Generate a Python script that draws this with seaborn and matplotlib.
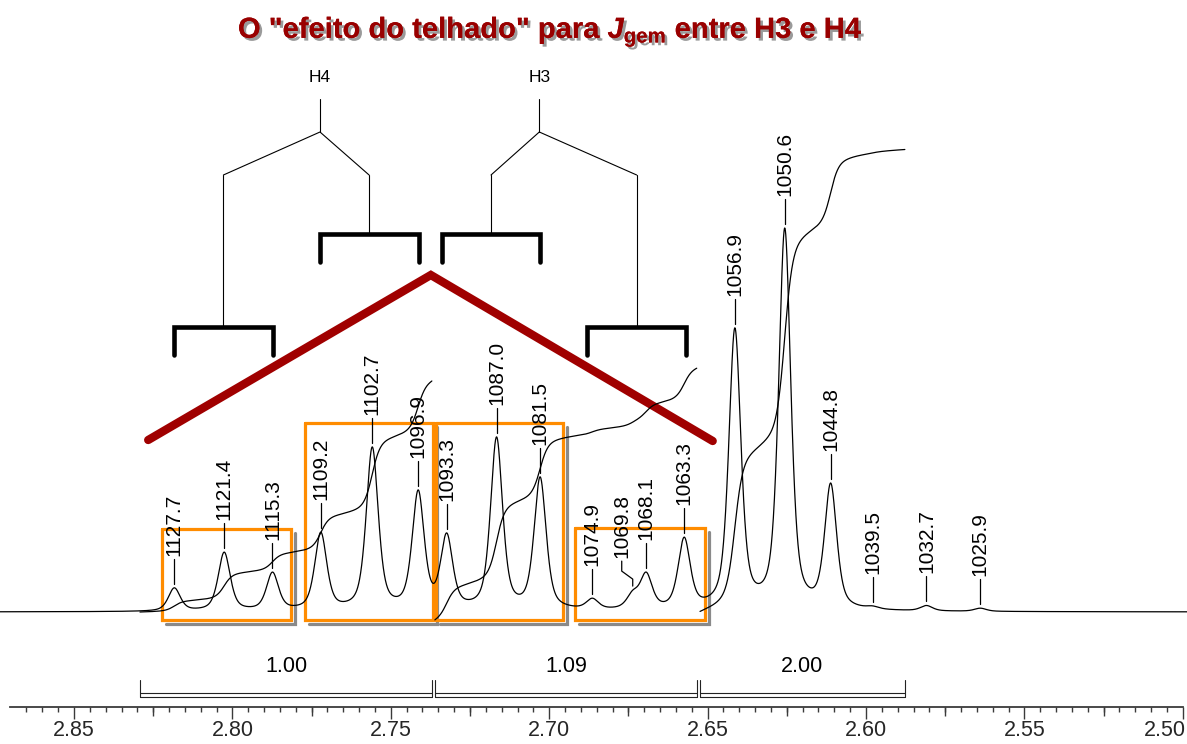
import numpy as np
import pandas as pd
import matplotlib
matplotlib.use("Agg")
import matplotlib.pyplot as plt
import seaborn as sns
from matplotlib import font_manager, patheffects, transforms
from matplotlib.ticker import FixedLocator

# ---------------------------------------------------------------- data
SPECTROMETER_MHZ = 400.13

# peak list (Hz) and apparent peak heights (% of the tallest line)
peak_hz = [1127.7, 1121.4, 1115.3, 1109.2, 1102.7, 1096.9, 1093.3, 1087.0,
           1081.5, 1074.9, 1069.8, 1068.1, 1063.3, 1056.9, 1050.6, 1044.8,
           1039.5, 1032.7, 1025.9]
peak_height = [6.3, 15.6, 10.4, 20.8, 43.0, 31.8, 20.6, 45.6,
               35.2, 3.6, 5.7, 10.4, 19.5, 74.0, 100.0, 33.6,
               1.6, 1.7, 1.0]

# integration regions (ppm) and integral values
integral_start = [2.8292, 2.7361, 2.6524]
integral_end = [2.7370, 2.6534, 2.5877]
integral_value = [1.00, 1.09, 2.00]

# splitting trees (Hz): true shift, the two J_gem branches, inner J bracket
tree_names = ["H4", "H3"]
tree_top_hz = [1109.3, 1081.6]
tree_left_hz = [1121.5, 1087.7]
tree_right_hz = [1103.1, 1069.3]
tree_long_side = ["left", "right"]
bracket_half_hz = 6.25

# multiplet groups highlighted with boxes (Hz)
box_left_hz = [1129.3, 1111.2, 1094.7, 1077.1]
box_right_hz = [1113.0, 1095.0, 1078.6, 1060.7]

# "roof" line over the AB system (Hz)
roof_hz = [1131.0, 1095.3, 1059.7]

tick_values = [2.85, 2.80, 2.75, 2.70, 2.65, 2.60, 2.55, 2.50]

# ---------------------------------------------------------------- layout
W, H, DPI = 1187, 744, 100
PX = 100.0 / 384.0              # intensity units per pixel
XL, XR = 2.87336, 2.49867       # ppm at left / right figure edges
YB, YT = -132 * PX, 612 * PX    # intensity at bottom / top edges

sns.set_theme(style="white")
plt.rcParams["font.family"] = ["Liberation Sans", "DejaVu Sans"]

names = {f.name for f in font_manager.fontManager.ttflist}
narrow = "Liberation Sans Narrow" in names
title_family = "Liberation Sans Narrow" if narrow else "Liberation Sans"
title_size = 25 if narrow else 21
plt.rcParams["mathtext.fontset"] = "custom"
plt.rcParams["mathtext.rm"] = f"{title_family}:bold"
plt.rcParams["mathtext.bf"] = f"{title_family}:bold"
plt.rcParams["mathtext.it"] = f"{title_family}:italic:bold"

fig = plt.figure(figsize=(W / DPI, H / DPI), dpi=DPI)
ax = fig.add_axes([0, 0, 1, 1])
ax.set_xlim(XL, XR)
ax.set_ylim(YB, YT)

# ---------------------------------------------------------------- spectrum
peak_ppm = np.array(peak_hz) / SPECTROMETER_MHZ
fwhm = 1.8 / SPECTROMETER_MHZ
eta = 0.55


def line_shape(d):
    return eta / (1 + (2 * d / fwhm) ** 2) + (1 - eta) * np.exp(-4 * np.log(2) * (d / fwhm) ** 2)


# amplitudes such that the summed curve reaches the apparent heights
M = line_shape(peak_ppm[:, None] - peak_ppm[None, :])
amps = np.linalg.solve(M, np.array(peak_height))

ppm = np.linspace(XL, XR, 9000)
intensity = (amps[None, :] * line_shape(ppm[:, None] - peak_ppm[None, :])).sum(axis=1)
spec = pd.DataFrame({"ppm": ppm, "intensity": intensity})
sns.lineplot(data=spec, x="ppm", y="intensity", ax=ax, color="black",
             lw=0.9, sort=False, estimator=None, zorder=5)

# integral curves
unit_height = 231 * PX
integral_offset = [0.0, -8 * PX, 0.5 * PX]
for s, e, v, off in zip(integral_start, integral_end, integral_value, integral_offset):
    m = (ppm <= s) & (ppm >= e)
    cum = np.cumsum(intensity[m])
    curve = pd.DataFrame({"ppm": ppm[m], "integral": cum / cum[-1] * v * unit_height + off})
    sns.lineplot(data=curve, x="ppm", y="integral", ax=ax, color="black",
                 lw=0.9, sort=False, estimator=None, zorder=5)

# peak labels
for hz, p in zip(peak_hz, peak_ppm):
    top = np.interp(p, ppm[::-1], intensity[::-1])
    y0 = top + 4 * PX
    y1 = y0 + 25 * PX
    if abs(hz - 1069.8) < 1e-6:
        dx = 11 / 3168.0
        xs = [p, p, p + dx, p + dx]
        ys = [y0, y0 + 7 * PX, y0 + 15 * PX, y1]
        xt = p + dx
    else:
        xs, ys, xt = [p, p], [y0, y1], p
    ax.plot(xs, ys, color="black", lw=0.9, zorder=6)
    ax.text(xt, y1 + 3 * PX, f"{hz:.1f}", rotation=90, ha="center", va="bottom",
            fontsize=15, color="black", zorder=6)

# ---------------------------------------------------------------- boxes
shadow = ax.transData + transforms.ScaledTranslation(4 / DPI, -4 / DPI, fig.dpi_scale_trans)
box_top = [83 * PX, 189 * PX, 189 * PX, 84 * PX]
box_bottom = -8 * PX
for l, r, t in zip(box_left_hz, box_right_hz, box_top):
    lp, rp = l / SPECTROMETER_MHZ, r / SPECTROMETER_MHZ
    ax.plot([rp, rp, lp], [t, box_bottom, box_bottom], color="#8a8a8a", lw=2.3,
            transform=shadow, zorder=3, solid_joinstyle="miter")
    ax.plot([lp, rp, rp, lp, lp], [t, t, box_bottom, box_bottom, t], color="#FF8C00",
            lw=2.3, zorder=4, solid_joinstyle="miter")

# ---------------------------------------------------------------- roof
roof_ppm = np.array(roof_hz) / SPECTROMETER_MHZ
roof_y = [172 * PX, 337 * PX, 171 * PX]
ax.plot(roof_ppm, roof_y, color="#A00000", lw=6, solid_capstyle="round",
        solid_joinstyle="miter", zorder=4)

# ---------------------------------------------------------------- trees
y_label, y_stem_top, y_stem_bot, y_branch = 534 * PX, 513 * PX, 480 * PX, 437 * PX
y_short, y_long, leg = 378 * PX, 285 * PX, 28 * PX
for name, top, left, right, side in zip(tree_names, tree_top_hz, tree_left_hz,
                                         tree_right_hz, tree_long_side):
    t, lft, rgt = top / SPECTROMETER_MHZ, left / SPECTROMETER_MHZ, right / SPECTROMETER_MHZ
    ax.text(t, y_label, name, ha="center", va="center", fontsize=12.5, color="black")
    ax.plot([t, t], [y_stem_top, y_stem_bot], color="black", lw=0.8)
    ax.plot([lft, t, rgt], [y_branch, y_stem_bot, y_branch], color="black", lw=0.8)
    hw = bracket_half_hz / SPECTROMETER_MHZ
    for b, is_long in ((lft, side == "left"), (rgt, side == "right")):
        yb = y_long if is_long else y_short
        ax.plot([b, b], [y_branch, yb], color="black", lw=0.8)
        ax.plot([b + hw, b + hw, b - hw, b - hw], [yb - leg, yb, yb, yb - leg],
                color="black", lw=3.3, solid_capstyle="round", solid_joinstyle="miter")

# ---------------------------------------------------------------- integration brackets
yb1, yb2, yend = -81 * PX, -85 * PX, -68 * PX
for s, e, v in zip(integral_start, integral_end, integral_value):
    ax.plot([s, e], [yb1, yb1], color="#222222", lw=0.8)
    ax.plot([s, e], [yb2, yb2], color="#222222", lw=0.8)
    ax.plot([s, s], [yend, yb2], color="#222222", lw=0.8)
    ax.plot([e, e], [yend, yb2], color="#222222", lw=0.8)
    ax.text((s + e) / 2, -55 * PX, f"{v:.2f}", ha="center", va="center",
            fontsize=15.5, color="black")

# ---------------------------------------------------------------- x axis
for sp in ("left", "right", "top"):
    ax.spines[sp].set_visible(False)
ax.spines["bottom"].set_position(("data", -95 * PX))
ax.spines["bottom"].set_bounds(2.8703, 2.50)
ax.spines["bottom"].set_color("#3a3a3a")
ax.spines["bottom"].set_linewidth(1.3)
ax.xaxis.set_major_locator(FixedLocator(tick_values))
ax.set_xticklabels([f"{t:.2f}" for t in tick_values])
minor = np.round(np.arange(2.865, 2.499, -0.005), 3)
ax.xaxis.set_minor_locator(FixedLocator(minor))
ax.tick_params(axis="x", which="major", direction="out", length=8.6, width=1.0,
               color="#3a3a3a", labelsize=15.5, pad=1, bottom=True)
ax.tick_params(axis="x", which="minor", direction="out", length=3.7, width=1.0,
               color="#3a3a3a", bottom=True)
# last label kept inside the figure edge
last = ax.get_xticklabels()[-1]
last.set_horizontalalignment("right")
last.set_transform(last.get_transform() +
                   transforms.ScaledTranslation(3 / DPI, 0, fig.dpi_scale_trans))
mid_ticks = [m for m in minor if abs(round(m / 0.025) * 0.025 - m) < 1e-6 and
             abs(round(m / 0.05) * 0.05 - m) > 1e-6]
ax.vlines(mid_ticks, -95 * PX, -104 * PX, color="#3a3a3a", lw=1.0, clip_on=False)
ax.set_yticks([])
ax.set_xlabel("")
ax.set_ylabel("")

# ---------------------------------------------------------------- title
fig.text(550 / W, 1 - 38 / H,
         r'O "efeito do telhado" para $\mathit{J}_{\mathrm{gem}}$ entre H3 e H4',
         ha="center", va="baseline", fontsize=title_size, fontweight="bold",
         family=title_family, color="#990000",
         path_effects=[patheffects.withSimplePatchShadow(offset=(2, -2),
                                                         shadow_rgbFace="#9a9a9a",
                                                         alpha=1.0),
                       patheffects.Normal()])

fig.savefig("out.png", dpi=DPI)
